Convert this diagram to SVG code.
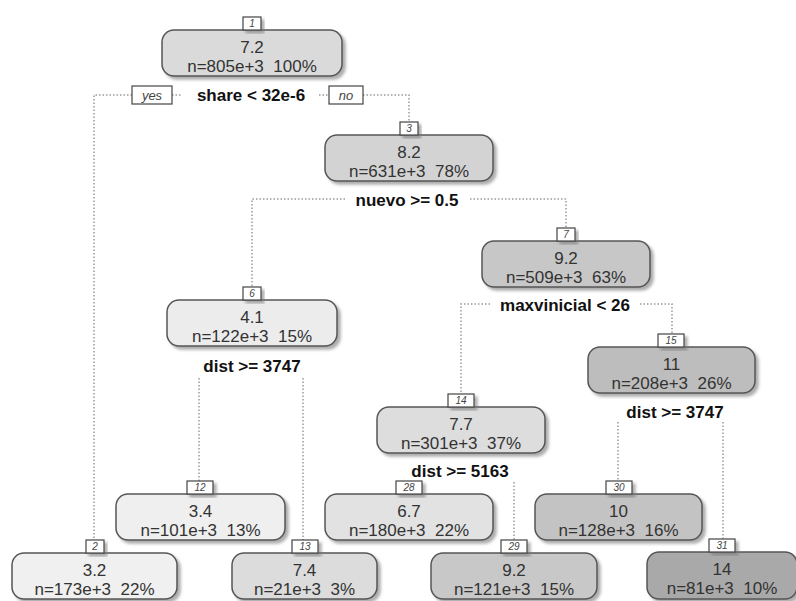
<svg xmlns="http://www.w3.org/2000/svg" width="796" height="601" viewBox="0 0 796 601">
<defs>
<filter id="sh" x="-10%" y="-20%" width="130%" height="150%">
<feDropShadow dx="3" dy="3" stdDeviation="1.8" flood-color="#777" flood-opacity="0.6"/>
</filter>
<style>
.box{stroke:#555;stroke-width:1.5}
.t{font-family:"Liberation Sans",Arial,sans-serif;font-size:17px;fill:#333;text-anchor:middle;white-space:pre}
.nb{fill:#fff;stroke:#444;stroke-width:1.2}
.nt{font-family:"Liberation Sans",Arial,sans-serif;font-size:10px;font-style:italic;fill:#444;text-anchor:middle}
.sp{font-family:"Liberation Sans",Arial,sans-serif;font-size:17px;font-weight:bold;fill:#111;text-anchor:middle}
.yn{font-family:"Liberation Sans",Arial,sans-serif;font-size:13px;font-style:italic;fill:#444;text-anchor:middle}
.ln{fill:none;stroke:#9a9a9a;stroke-width:1.5;stroke-dasharray:1.5 2}
</style>
</defs>
<rect width="796" height="601" fill="#fff"/>
<g id="connectors">
<path class="ln" d="M132,95 H94 V540"/>
<path class="ln" d="M172,95 H181"/>
<path class="ln" d="M319,95 H328"/>
<path class="ln" d="M363,95 H409 V122"/>
<path class="ln" d="M345,199 H252 V287"/>
<path class="ln" d="M470,199 H566 V228"/>
<path class="ln" d="M490,304 H461 V394"/>
<path class="ln" d="M640,304 H672 V334"/>
<path class="ln" d="M199,378 V481"/>
<path class="ln" d="M303,378 V540"/>
<path class="ln" d="M618,422 V481"/>
<path class="ln" d="M723,422 V539"/>
<path class="ln" d="M514,482 V540"/>
</g>
<g id="splits">
<rect class="nb" x="132" y="86" width="40" height="18"/>
<text class="yn" x="152" y="100">yes</text>
<text class="sp" x="251" y="101">share &lt; 32e-6</text>
<rect class="nb" x="329" y="86" width="34" height="18"/>
<text class="yn" x="346" y="100">no</text>
<text class="sp" x="407" y="206">nuevo &gt;= 0.5</text>
<text class="sp" x="565" y="311">maxvinicial &lt; 26</text>
<text class="sp" x="252" y="372">dist &gt;= 3747</text>
<text class="sp" x="675" y="418">dist &gt;= 3747</text>
<text class="sp" x="460" y="477">dist &gt;= 5163</text>
</g>
<g id="n1">
<rect class="box" x="162" y="30" width="180" height="46" rx="12" fill="#dadada" filter="url(#sh)"/>
<rect class="nb" x="243" y="17" width="18" height="13" filter="url(#sh)"/>
<text class="nt" x="252" y="27">1</text>
<text class="t" x="252" y="53">7.2</text>
<text class="t" x="252" y="71.5">n=805e+3  100%</text>
</g>
<g id="n3">
<rect class="box" x="325" y="135" width="168" height="46" rx="12" fill="#d3d3d3" filter="url(#sh)"/>
<rect class="nb" x="400" y="122" width="18" height="13" filter="url(#sh)"/>
<text class="nt" x="409" y="132">3</text>
<text class="t" x="409" y="158">8.2</text>
<text class="t" x="409" y="176.5">n=631e+3  78%</text>
</g>
<g id="n7">
<rect class="box" x="482" y="241" width="168" height="46" rx="12" fill="#c7c7c7" filter="url(#sh)"/>
<rect class="nb" x="557" y="228" width="18" height="13" filter="url(#sh)"/>
<text class="nt" x="566" y="238">7</text>
<text class="t" x="566" y="264">9.2</text>
<text class="t" x="566" y="282.5">n=509e+3  63%</text>
</g>
<g id="n6">
<rect class="box" x="167" y="300" width="170" height="46" rx="12" fill="#ececec" filter="url(#sh)"/>
<rect class="nb" x="243" y="287" width="18" height="13" filter="url(#sh)"/>
<text class="nt" x="252" y="297">6</text>
<text class="t" x="252" y="323">4.1</text>
<text class="t" x="252" y="341.5">n=122e+3  15%</text>
</g>
<g id="n15">
<rect class="box" x="588" y="347" width="167" height="46" rx="12" fill="#bdbdbd" filter="url(#sh)"/>
<rect class="nb" x="658" y="334" width="26" height="13" filter="url(#sh)"/>
<text class="nt" x="671" y="344">15</text>
<text class="t" x="671.5" y="370">11</text>
<text class="t" x="671.5" y="388.5">n=208e+3  26%</text>
</g>
<g id="n14">
<rect class="box" x="377" y="407" width="168" height="46" rx="12" fill="#dddddd" filter="url(#sh)"/>
<rect class="nb" x="448" y="394" width="26" height="13" filter="url(#sh)"/>
<text class="nt" x="461" y="404">14</text>
<text class="t" x="461" y="430">7.7</text>
<text class="t" x="461" y="448.5">n=301e+3  37%</text>
</g>
<g id="n12">
<rect class="box" x="116" y="494" width="169" height="46" rx="12" fill="#efefef" filter="url(#sh)"/>
<rect class="nb" x="187" y="481" width="26" height="13" filter="url(#sh)"/>
<text class="nt" x="200" y="491">12</text>
<text class="t" x="200.5" y="517">3.4</text>
<text class="t" x="200.5" y="535.5">n=101e+3  13%</text>
</g>
<g id="n28">
<rect class="box" x="325" y="494" width="168" height="46" rx="12" fill="#e2e2e2" filter="url(#sh)"/>
<rect class="nb" x="396" y="481" width="26" height="13" filter="url(#sh)"/>
<text class="nt" x="409" y="491">28</text>
<text class="t" x="409" y="517">6.7</text>
<text class="t" x="409" y="535.5">n=180e+3  22%</text>
</g>
<g id="n30">
<rect class="box" x="535" y="494" width="167" height="46" rx="12" fill="#c3c3c3" filter="url(#sh)"/>
<rect class="nb" x="606" y="481" width="26" height="13" filter="url(#sh)"/>
<text class="nt" x="619" y="491">30</text>
<text class="t" x="618.5" y="517">10</text>
<text class="t" x="618.5" y="535.5">n=128e+3  16%</text>
</g>
<g id="n2">
<rect class="box" x="12" y="553" width="165" height="46" rx="12" fill="#f0f0f0" filter="url(#sh)"/>
<rect class="nb" x="86" y="540" width="18" height="13" filter="url(#sh)"/>
<text class="nt" x="95" y="550">2</text>
<text class="t" x="94.5" y="576">3.2</text>
<text class="t" x="94.5" y="594.5">n=173e+3  22%</text>
</g>
<g id="n13">
<rect class="box" x="232" y="553" width="145" height="46" rx="12" fill="#dcdcdc" filter="url(#sh)"/>
<rect class="nb" x="292" y="540" width="26" height="13" filter="url(#sh)"/>
<text class="nt" x="305" y="550">13</text>
<text class="t" x="304.5" y="576">7.4</text>
<text class="t" x="304.5" y="594.5">n=21e+3  3%</text>
</g>
<g id="n29">
<rect class="box" x="431" y="553" width="166" height="46" rx="12" fill="#c8c8c8" filter="url(#sh)"/>
<rect class="nb" x="501" y="540" width="26" height="13" filter="url(#sh)"/>
<text class="nt" x="514" y="550">29</text>
<text class="t" x="514" y="576">9.2</text>
<text class="t" x="514" y="594.5">n=121e+3  15%</text>
</g>
<g id="n31">
<rect class="box" x="647" y="552" width="150" height="47" rx="12" fill="#a9a9a9" filter="url(#sh)"/>
<rect class="nb" x="709" y="539" width="26" height="13" filter="url(#sh)"/>
<text class="nt" x="722" y="549">31</text>
<text class="t" x="722" y="575">14</text>
<text class="t" x="722" y="593.5">n=81e+3  10%</text>
</g>
</svg>
